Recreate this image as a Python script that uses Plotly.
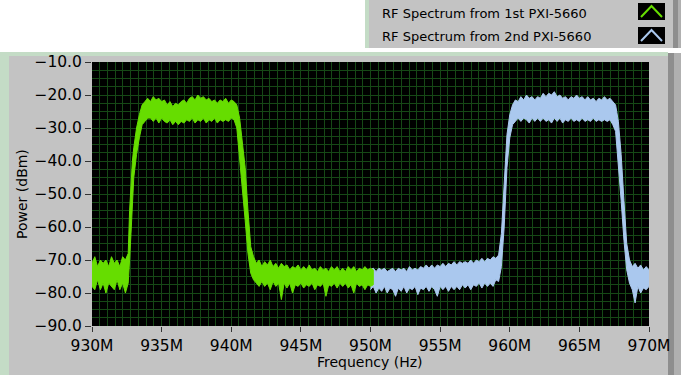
import plotly.graph_objects as go

# ---------------- data ----------------
green_freq = [930.0, 930.2, 930.4, 930.6, 930.8, 931.0, 931.2, 931.4, 931.6, 931.8, 932.0, 932.2, 932.4, 932.6,
              932.7, 932.8, 932.9, 933.0, 933.2, 933.4, 933.6, 933.8, 934.0,
              934.2, 934.4, 934.6, 934.8, 935.0, 935.2, 935.4, 935.6, 935.8, 936.0, 936.2, 936.4, 936.6, 936.8,
              937.0, 937.2, 937.4, 937.6, 937.8, 938.0, 938.2, 938.4, 938.6, 938.8, 939.0, 939.2, 939.4, 939.6,
              939.8, 940.0, 940.2,
              940.4, 940.6, 940.8, 941.0, 941.2, 941.4, 941.6,
              941.8, 942.0, 942.2, 942.4, 942.6, 942.8, 943.0, 943.2, 943.4, 943.6, 943.8, 944.0, 944.2, 944.4,
              944.6, 944.8, 945.0, 945.2, 945.4, 945.6, 945.8, 946.0, 946.2, 946.4, 946.6, 946.8, 947.0, 947.2,
              947.4, 947.6, 947.8, 948.0, 948.2, 948.4, 948.6, 948.8, 949.0, 949.2, 949.4, 949.6, 949.8, 950.0,
              950.2]
green_upper = [-71, -69, -72, -70, -71, -70, -72, -69, -71, -70, -72, -69, -70, -68,
               -55, -45, -40, -36, -30, -26, -23, -22, -21,
               -22, -20.5, -21.5, -21, -22, -21.5, -23, -22, -23.5, -22.5, -23, -22, -21.5, -22.5,
               -21, -20.5, -21.5, -20, -21, -20.5, -21.5, -21, -22, -21.5, -22.5, -21.5, -22, -21,
               -22.5, -21.5, -22,
               -23, -27, -34, -42, -55, -66, -69,
               -71, -70, -72, -70.5, -71.5, -70, -72, -71, -72.5, -71, -72, -71.5, -73, -72,
               -72.5, -71.5, -73, -72, -73, -71.5, -73, -72.5, -73.5, -72, -73, -72.5, -73.5, -72,
               -73, -72, -73.5, -72.5, -73.5, -72, -73, -72, -73.5, -72.5, -73, -72, -73, -72.5,
               -73]
green_lower = [-78, -79, -76, -79, -77, -80, -77, -78, -79, -76, -79, -77, -80, -77,
               -70, -62, -52, -45, -38, -33, -29, -28, -27,
               -27, -28, -27, -28.5, -27, -28, -28.5, -27.5, -29, -28, -29, -28, -28.5, -27.5,
               -28, -27, -28.5, -27.5, -28, -27, -28.5, -27.5, -28, -27, -28.5, -27.5, -28, -27.5,
               -28, -27, -27.5,
               -30, -38, -48, -58, -68, -74, -76,
               -77, -78, -76.5, -78, -77, -79, -76.5, -78, -77, -82, -77, -78.5, -77, -80,
               -77.5, -78, -77, -78.5, -77.5, -78, -77, -79, -77.5, -78, -77, -81, -77.5, -78,
               -77, -78.5, -77, -78, -77, -78.5, -77.5, -80, -77, -78, -77.5, -79, -77.5, -78,
               -77.5]

blue_freq = [950.0, 950.2, 950.4, 950.6, 950.8, 951.0, 951.2, 951.4, 951.6, 951.8,
             952.0, 952.2, 952.4, 952.6, 952.8, 953.0, 953.2, 953.4, 953.6, 953.8,
             954.0, 954.2, 954.4, 954.6, 954.8, 955.0, 955.2, 955.4, 955.6, 955.8,
             956.0, 956.2, 956.4, 956.6, 956.8, 957.0, 957.2, 957.4, 957.6, 957.8,
             958.0, 958.2, 958.4, 958.6, 958.8, 959.0, 959.2,
             959.4, 959.6, 959.8, 960.0, 960.2, 960.4,
             960.6, 960.8, 961.0, 961.2, 961.4, 961.6, 961.8, 962.0, 962.2, 962.4,
             962.6, 962.8, 963.0, 963.2, 963.4, 963.6, 963.8, 964.0, 964.2, 964.4,
             964.6, 964.8, 965.0, 965.2, 965.4, 965.6, 965.8, 966.0, 966.2, 966.4,
             966.6, 966.8, 967.0, 967.2, 967.4,
             967.6, 967.8, 968.0, 968.2, 968.4, 968.6,
             968.8, 969.0, 969.2, 969.4, 969.6, 969.8, 970.0]
blue_upper = [-73, -72.5, -73.5, -72.5, -73, -72.5, -73.5, -73, -72.5, -73.5,
              -72.5, -73, -72.5, -73.5, -72, -73, -72.5, -73, -72, -72.5,
              -71.5, -72.5, -71.5, -72.5, -71.5, -72, -71, -72, -71, -71.5,
              -70.5, -71.5, -70.5, -71, -70.5, -71, -70, -71, -70, -70.5,
              -69.5, -70.5, -69.5, -70, -69, -69.5, -68.5,
              -62, -45, -32, -26, -23, -21.5,
              -22, -20.5, -21.5, -20, -21, -20.5, -21.5, -20.5, -21, -19.5,
              -20.5, -19.5, -20, -19, -20.5, -20, -21, -20.5, -21.5, -20.5,
              -21, -20, -21, -20.5, -21.5, -20.5, -21.5, -21, -22, -21,
              -21.5, -20.5, -21.5, -21, -22,
              -23, -28, -38, -52, -65, -70,
              -72, -71, -72.5, -71.5, -73, -72, -73]
blue_lower = [-79, -78, -80, -78.5, -79.5, -78, -80, -78.5, -79, -81,
              -78.5, -79.5, -78, -80, -78.5, -79, -78, -80.5, -78.5, -79,
              -78, -79.5, -78, -79, -81, -78, -79, -78, -79.5, -78,
              -79, -78, -79, -77.5, -78.5, -77.5, -79, -77.5, -78, -77,
              -78.5, -77, -78, -77, -78, -76, -76.5,
              -72, -60, -42, -33, -29, -28,
              -27, -28, -27, -27.5, -28.5, -27, -28, -27, -28, -27,
              -28, -27.5, -28.5, -27, -28, -27, -28.5, -27.5, -28, -27,
              -28, -27.5, -28, -27, -28, -27.5, -28, -27, -28, -27.5,
              -28, -27.5, -28, -27.5, -29,
              -31, -40, -52, -64, -73, -77,
              -79, -83, -78, -80, -78.5, -79, -78]

x_tick_vals = [930, 935, 940, 945, 950, 955, 960, 965, 970]
x_tick_text = ["930M", "935M", "940M", "945M", "950M", "955M", "960M", "965M", "970M"]
y_tick_vals = [-90, -80, -70, -60, -50, -40, -30, -20, -10]

series_names = ["RF Spectrum from 1st PXI-5660", "RF Spectrum from 2nd PXI-5660"]
green_color = "#66dd00"
blue_color = "#aac8ee"

# ---------------- layout geometry (pixels) ----------------
W, H = 681, 375
L, R, T, B = 92, 649, 62, 326


def px(x):
    return (x - L) / (R - L)


def py(y):
    return (B - y) / (B - T)


fig = go.Figure()

for freq, up, lo, col, name in [(blue_freq, blue_upper, blue_lower, blue_color, series_names[1]),
                                (green_freq, green_upper, green_lower, green_color, series_names[0])]:
    fig.add_trace(go.Scatter(
        x=freq + freq[::-1], y=up + lo[::-1], mode="lines", fill="toself",
        fillcolor=col, line=dict(color=col, width=1), name=name, showlegend=False,
        hoverinfo="skip"))

font = "DejaVu Sans"
gray = "#c3c3c3"
lgreen = "#c4dcc6"
shapes = []


def rect(x0, y0, x1, y1, color):
    shapes.append(dict(type="rect", xref="paper", yref="paper", layer="below",
                       x0=px(x0), x1=px(x1), y0=py(y1), y1=py(y0),
                       fillcolor=color, line=dict(width=0)))


# main panel
rect(0, 53, 681, 375, gray)
rect(0, 52, 668, 56, lgreen)
rect(0, 52, 9, 375, lgreen)
rect(668, 53, 674, 375, "#8e8e8e")
rect(674, 53, 681, 375, "#b0b0b0")
# plot area
rect(L, T, R, B, "black")
# legend box
rect(365, 0, 681, 48, gray)
rect(365, 0, 369, 48, lgreen)
rect(673, 0, 678, 48, "#8e8e8e")
rect(678, 0, 681, 48, "#b0b0b0")
rect(638, 3, 665, 20, "black")
rect(638, 27, 665, 44, "black")

for (ytop, ybot), col in [((6, 17), green_color), ((30, 41), blue_color)]:
    shapes.append(dict(type="path", xref="paper", yref="paper", layer="above",
                       path=f"M {px(641)},{py(ybot)} L {px(651.5)},{py(ytop)} L {px(662)},{py(ybot)}",
                       line=dict(color=col, width=2)))

annotations = [
    dict(text=series_names[0], x=px(380), y=py(13), xref="paper", yref="paper",
         xanchor="left", yanchor="middle", showarrow=False, font=dict(family=font, size=13, color="black")),
    dict(text=series_names[1], x=px(380), y=py(36), xref="paper", yref="paper",
         xanchor="left", yanchor="middle", showarrow=False, font=dict(family=font, size=13, color="black")),
    dict(text="Power (dBm)", x=px(22), y=py(194), xref="paper", yref="paper", textangle=-90,
         xanchor="center", yanchor="middle", showarrow=False, font=dict(family=font, size=14, color="black")),
    dict(text="Frequency (Hz)", x=px(370), y=py(362), xref="paper", yref="paper",
         xanchor="center", yanchor="middle", showarrow=False, font=dict(family=font, size=14, color="black")),
]

grid_col = "#164816"
fig.update_layout(
    width=W, height=H,
    margin=dict(l=L, r=W - R, t=T, b=H - B, pad=0),
    paper_bgcolor="white", plot_bgcolor="black",
    font=dict(family=font, color="black"),
    shapes=shapes, annotations=annotations, showlegend=False,
    xaxis=dict(range=[930, 970], tickvals=x_tick_vals, ticktext=x_tick_text,
               ticks="outside", ticklen=5, tickcolor="#333333", tickfont=dict(size=15.5),
               showgrid=True, gridcolor=grid_col, gridwidth=1, zeroline=False,
               minor=dict(dtick=5 / 9, tick0=930, showgrid=True, gridcolor=grid_col, gridwidth=1, ticks=""),
               showline=False, fixedrange=True),
    yaxis=dict(range=[-90, -10], tickvals=y_tick_vals, tickformat=".1f",
               ticks="outside", ticklen=6, tickcolor="#333333", tickfont=dict(size=15.5),
               showgrid=True, gridcolor=grid_col, gridwidth=1, zeroline=False,
               minor=dict(dtick=2.5, tick0=-90, showgrid=True, gridcolor=grid_col, gridwidth=1, ticks=""),
               showline=False, fixedrange=True),
)

fig.write_html("out.html", config={"displayModeBar": False},
               post_script="document.body.style.margin='0';document.body.style.overflow='hidden';")
